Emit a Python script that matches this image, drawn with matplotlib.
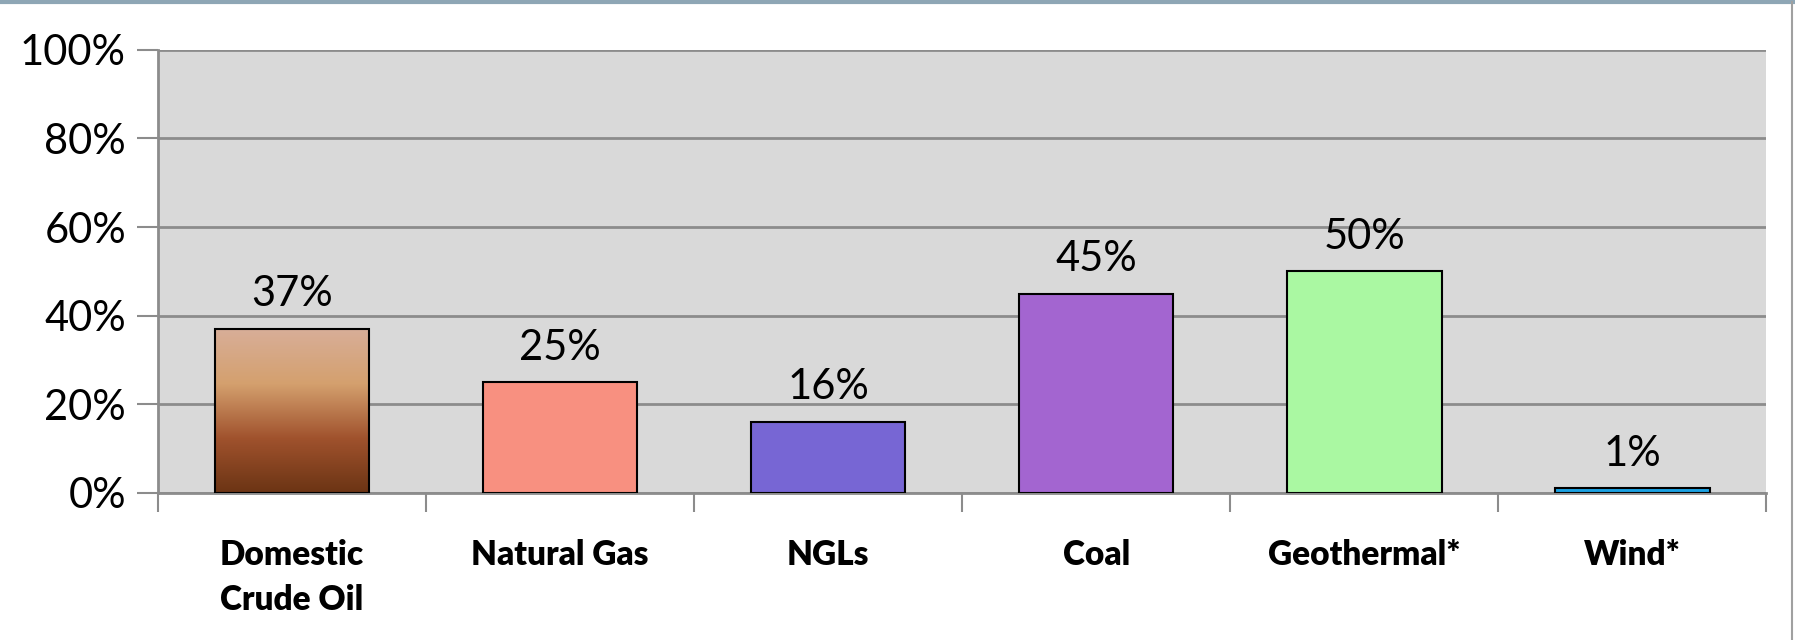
import numpy as np
import matplotlib
matplotlib.use('Agg')
import matplotlib.pyplot as plt
from matplotlib.colors import LinearSegmentedColormap
from matplotlib.lines import Line2D

categories = ['Domestic\nCrude Oil', 'Natural Gas', 'NGLs', 'Coal', 'Geothermal*', 'Wind*']
values = [37, 25, 16, 45, 50, 1]
colors = ['#A0522D', '#F89080', '#7766D4', '#A365D0', '#AAF8A2', '#1BA1E2']
yticks = [0, 20, 40, 60, 80, 100]

plt.rcParams['font.family'] = ['Lato', 'DejaVu Sans']

fig = plt.figure(figsize=(17.95, 6.4), dpi=100)
ax = fig.add_axes([0.088, 0.230, 0.896, 0.692])
ax.set_facecolor('#D9D9D9')

x = np.arange(len(categories))
bars = ax.bar(x, values, width=0.577, color=colors, edgecolor='black', linewidth=1.5, zorder=3)

# gradient fill for the crude oil bar
grad = LinearSegmentedColormap.from_list('oil', ['#6B3414', '#A0522D', '#D4A06E', '#D8AE98'])
b0 = bars[0]
img = ax.imshow(np.linspace(0, 1, 256).reshape(-1, 1), cmap=grad, origin='lower', aspect='auto',
                extent=[b0.get_x(), b0.get_x() + b0.get_width(), 0, b0.get_height()], zorder=3.5)
img.set_clip_path(b0)
b0.set_facecolor('none')
b0.set_zorder(4)

for xi, v in zip(x, values):
    ax.text(xi, v + 3.5, f'{v}%', ha='center', va='bottom', fontsize=30, zorder=5)

ax.set_xlim(-0.5, len(categories) - 0.5)
ax.set_ylim(0, 100)
ax.set_yticks(yticks)
ax.set_yticklabels([f'{t}%' for t in yticks], fontsize=30)
ax.yaxis.grid(True, color='#8C8C8C', linewidth=2)
ax.set_axisbelow(True)

ax.set_xticks(x)
ax.set_xticklabels(categories, fontsize=24, fontweight='heavy', multialignment='left', linespacing=1.5)
ax.set_xticks(np.arange(-0.5, len(categories)), minor=True)
ax.tick_params(axis='x', which='major', length=0, pad=33)
ax.tick_params(axis='x', which='minor', length=14, width=1.5, color='#8C8C8C')
ax.tick_params(axis='y', length=15, width=1.5, color='#8C8C8C', pad=8)
for lab in ax.get_xticklabels():
    lab.set_va('top')

for s in ['top', 'right']:
    ax.spines[s].set_visible(False)
for s in ['left', 'bottom']:
    ax.spines[s].set_color('#8C8C8C')
    ax.spines[s].set_linewidth(2)

# slide frame lines at top and right edge
fig.add_artist(Line2D([0, 1], [0.997, 0.997], color='#8EA6B5', linewidth=3, transform=fig.transFigure))
fig.add_artist(Line2D([0.9985, 0.9985], [0, 0.997], color='#A0A0A0', linewidth=1.5, transform=fig.transFigure))

fig.savefig('out.png', dpi=100)
